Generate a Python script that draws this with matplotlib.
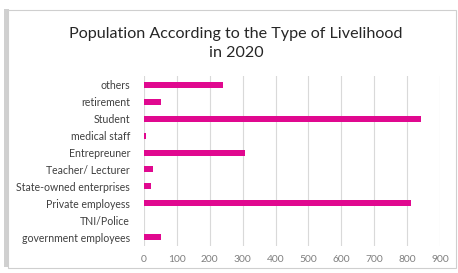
import matplotlib
matplotlib.use("Agg")
from matplotlib import pyplot as plt
from matplotlib.patches import Rectangle

categories = ["government employees", "TNI/Police", "Private employess",
              "State-owned enterprises", "Teacher/ Lecturer", "Entrepreuner",
              "medical staff", "Student", "retirement", "others"]
population = [52, 0, 811, 20, 26, 308, 5, 841, 51, 241]
x_ticks = [0, 100, 200, 300, 400, 500, 600, 700, 800, 900]

plt.rcParams['font.family'] = ['Lato', 'DejaVu Sans']

fig = plt.figure(figsize=(4.58, 2.73), dpi=100)

# chart frame with a soft shadow on the left
fig.patches.append(Rectangle((4 / 458, 6 / 273), 5 / 458, 258 / 273, transform=fig.transFigure,
                             facecolor="#d0d0d0", edgecolor="none", zorder=0))
fig.patches.append(Rectangle((8 / 458, 5 / 273), 448 / 458, 258 / 273, transform=fig.transFigure,
                             facecolor="white", edgecolor="#cfcfcf", linewidth=0.8, zorder=1))

ax = fig.add_axes([144 / 458, 0.1007, 296 / 458, 0.6191])
ax.set_zorder(2)
ax.barh(range(len(categories)), population, height=0.35, color="#e0088f", zorder=3)
ax.set_xlim(0, 900)
ax.set_ylim(-0.5, len(categories) - 0.5)
ax.set_xticks(x_ticks)
ax.set_yticks(range(len(categories)))
ax.set_yticklabels(categories, fontsize=7.6, color="#404040")
ax.tick_params(axis="x", labelsize=7.4, labelcolor="#7f7f7f", length=0, pad=7)
ax.tick_params(axis="y", length=0, pad=10)
ax.grid(axis="x", color="#d9d9d9", linewidth=0.8, zorder=0)
for s in ax.spines.values():
    s.set_visible(False)
ax.set_facecolor("none")

fig.text(0.515, 0.84, "Population According to the Type of Livelihood\nin 2020",
         ha="center", va="center", fontsize=11.6, color="#262626", linespacing=1.45)

fig.savefig("out.png", dpi=100)
